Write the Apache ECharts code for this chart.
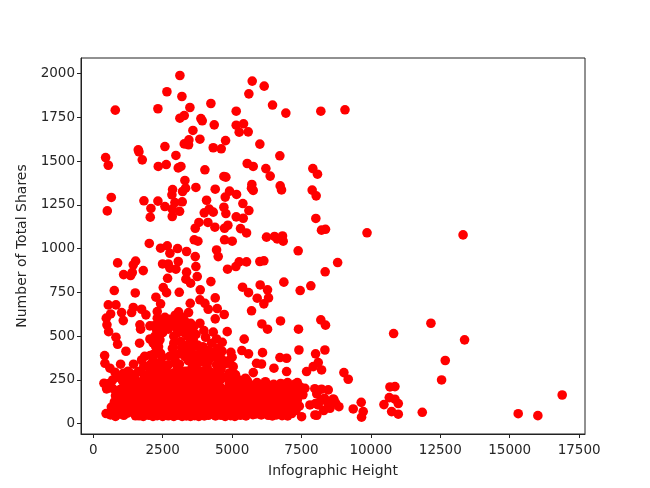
<!DOCTYPE html>
<html><head><meta charset="utf-8">
<script src="https://cdn.jsdelivr.net/npm/echarts@6/dist/echarts.min.js"></script>
<style>html,body{margin:0;padding:0;background:#fff}#c{width:650px;height:488px}</style>
</head><body><div id="c"></div>
<script>
const xTicks=[0,2500,5000,7500,10000,12500,15000,17500];
const yTicks=[0,250,500,750,1000,1250,1500,1750,2000];
const upperPoints=[[3120,1990],[5724,1958],[6156,1929],[2652,1897],[3192,1870],[5604,1885],[6456,1821],[4236,1830],[3480,1807],[792,1792],[2328,1800],[5148,1786],[6936,1775],[8196,1786],[9066,1794],[3120,1746],[3276,1761],[3876,1744],[3924,1731],[4356,1708],[5148,1706],[5412,1714],[5256,1666],[5580,1668],[3588,1676],[3840,1626],[3444,1622],[3276,1599],[3432,1594],[4764,1618],[4320,1577],[4608,1571],[6000,1598],[2580,1584],[1620,1565],[1644,1554],[1764,1508],[2976,1533],[444,1521],[540,1477],[2340,1470],[2628,1481],[3060,1462],[3156,1470],[4020,1451],[6720,1531],[5544,1487],[5760,1470],[6216,1458],[6372,1415],[7908,1458],[8076,1426],[4704,1413],[4776,1409],[3300,1390],[3324,1346],[3216,1327],[2856,1338],[2832,1308],[3696,1350],[4392,1340],[5712,1367],[5700,1346],[5760,1333],[6732,1359],[6780,1336],[7884,1335],[8028,1302],[648,1293],[504,1216],[1824,1274],[2328,1272],[2076,1230],[2052,1180],[2580,1241],[2844,1226],[2844,1184],[2940,1264],[3204,1268],[3108,1214],[4080,1277],[3996,1205],[4176,1226],[4320,1209],[4752,1295],[4908,1329],[5160,1310],[4704,1237],[4776,1201],[5388,1258],[5604,1218],[5148,1182],[5400,1174],[8016,1173],[8220,1106],[8364,1111],[9860,1091],[13320,1079],[3804,1150],[4128,1150],[3672,1117],[4380,1123],[4728,1117],[4848,1134],[5304,1115],[5520,1090],[6240,1066],[6528,1070],[6624,1056],[6816,1073],[6840,1043],[3636,1051],[3768,1043],[4728,1051],[5004,1043],[2016,1030]];
const middlePoints=[[2424,1003],[2664,1016],[2760,974],[3036,1001],[3360,984],[3672,955],[4440,993],[4500,955],[7380,988],[876,919],[1524,929],[1440,908],[1092,852],[1344,847],[1404,864],[1800,875],[2496,913],[2700,913],[3060,927],[2976,883],[2760,889],[3696,898],[3360,866],[3744,841],[3336,826],[3504,803],[2676,831],[4836,883],[5136,898],[5256,925],[5520,925],[6000,927],[6144,931],[8802,921],[8352,868],[6864,809],[7452,761],[7836,788],[4236,812],[5376,780],[5592,749],[6012,793],[6276,765],[5904,717],[6312,719],[6144,685],[5700,645],[756,761],[1512,747],[2520,778],[2640,749],[3096,751],[3852,765],[2256,723],[2424,685],[3492,688],[3840,708],[4020,688],[4140,654],[4392,719],[4464,658],[4716,624],[4392,599],[3072,639],[3432,635],[540,679],[816,679],[624,627],[468,603],[492,565],[552,526],[816,494],[876,454],[1176,414],[1020,635],[1080,589],[1380,635],[1440,664],[1740,654],[1896,622],[1680,565],[1704,540],[2304,641],[2304,603],[2580,608],[2760,597],[2040,559],[2280,536],[2040,484],[1668,460],[2400,479],[3180,565],[3504,574],[3840,574],[3000,545],[3300,517],[3984,532],[4044,494],[4320,523],[4440,484],[4644,465],[4824,526],[6744,587],[6072,570],[6276,540],[7392,540],[8196,593],[8364,563],[5436,483],[5352,418],[5592,399],[6096,406],[7407,421],[8343,421],[8007,399],[4956,408],[4320,408],[3900,412],[6723,378],[6963,374],[6507,317],[6963,298],[5880,345],[6060,341],[5763,292],[7683,298],[8103,349],[7923,326],[8223,307],[408,389],[420,345],[600,317],[984,340],[780,294],[1080,288],[1740,364],[2040,336],[2160,383],[2424,402],[2520,336],[2700,336],[3000,336],[3300,383],[3600,345],[4140,355],[4500,402],[4440,336],[4800,355],[5040,326],[5124,279],[2500,520],[2700,540],[2900,500],[3150,470],[3400,500],[3600,480],[2350,440],[2850,430],[3100,400],[3500,420],[3750,450],[2200,300],[2900,290],[3400,300],[3700,290],[4000,300],[4250,290],[4600,310],[4900,290],[1950,280],[3200,280]];
const midFillPoints=[[2180,560],[2340,575],[2480,555],[2620,575],[2880,570],[3050,580],[3280,590],[3430,560],[3620,555],[2220,500],[2900,460],[3050,520],[3220,545],[3480,530],[3700,510],[2160,460],[2300,410],[2480,380],[2750,385],[2900,395],[3180,435],[3320,445],[3480,465],[3620,440],[3850,430],[3950,390],[2050,390],[2130,350],[2280,345],[2390,300],[2620,310],[2950,360],[3100,340],[3420,360],[3530,380],[3700,390],[3820,350],[4000,350],[4200,390],[4380,380],[4620,370],[4720,340],[4900,345],[5000,380],[3300,300],[3520,290],[3850,300],[4120,300],[4380,290],[4520,270],[4780,265],[5000,260],[2350,275],[2620,270],[2800,275],[3070,270],[3350,265],[3620,265],[3880,270],[4180,265],[1820,330],[1700,300],[1850,270],[1500,275],[1350,285],[1200,250],[1050,245],[900,265],[700,250],[560,230],[4260,460],[4480,430],[4640,415],[2950,620],[3200,610],[4560,297],[4920,365],[4200,297]];
const densePoints=[[460,58],[620,50],[800,42],[950,55],[1100,48],[650,95],[820,85],[1000,80],[1180,90],[384,231],[480,199],[696,202],[1140,221],[1464,250],[1620,298],[800,160],[950,150],[1100,130],[1250,170],[1400,130],[1550,180],[1700,240],[1850,210],[2200,240],[2400,250],[2650,240],[2950,245],[3200,250],[3450,235],[3700,255],[3950,245],[4200,240],[4450,250],[4600,255],[1650,45],[1800,42],[2000,48],[2150,42],[2300,46],[2500,42],[2700,45],[2900,42],[3050,48],[3200,42],[3350,44],[3500,42],[3650,46],[3800,42],[4000,44],[4150,48],[4400,44],[4600,48],[4750,42],[4950,46],[5100,42],[5300,48],[5500,44],[5750,52],[6300,48],[6450,44],[6600,50],[6800,46],[7000,44],[7503,40],[7983,50],[8050,48],[1500,75],[1700,80],[1900,75],[2100,80],[2300,70],[2500,80],[2700,72],[2900,80],[3100,70],[3300,80],[3500,72],[3700,80],[3900,70],[4100,80],[4300,72],[4500,80],[4700,72],[4900,80],[5100,72],[5300,80],[5500,72],[5700,78],[5900,70],[6100,75],[6400,75],[6700,78],[7050,80],[7300,75],[1300,120],[1550,115],[1800,110],[2050,120],[2300,110],[2550,120],[2800,110],[3050,120],[3300,110],[3550,120],[3800,110],[4050,120],[4300,110],[4550,120],[4800,110],[5050,120],[5300,110],[5550,118],[5800,110],[6050,120],[6300,110],[6550,118],[6800,112],[7050,118],[7300,120],[1450,165],[1700,160],[1950,170],[2200,160],[2450,170],[2700,160],[2950,170],[3200,160],[3450,170],[3700,160],[3950,170],[4200,160],[4450,170],[4700,150],[4950,170],[5200,160],[5450,165],[5700,160],[5950,170],[6200,160],[6450,165],[6700,160],[6950,170],[7150,150],[7450,165],[1600,210],[2100,205],[2350,200],[2600,205],[2850,200],[3100,205],[3350,200],[3600,205],[3850,200],[4100,205],[4350,200],[4600,205],[5000,200],[5250,200],[5500,190],[5800,205],[6050,195],[6300,200],[6550,205],[6800,210],[7000,205],[7450,210],[7623,202],[7803,107],[8103,107],[8200,135],[8050,170],[8223,197],[8463,193],[8300,75],[8526,88],[8643,141],[8847,97],[8670,136],[8730,117],[5550,245],[5900,235],[6200,240],[6500,225],[6750,230],[7000,235],[7250,225],[3000,300],[2450,310],[3700,340],[2200,400]];
const denseFillPoints=[[720,70],[880,62],[1040,68],[900,110],[1080,105],[1230,60],[760,125],[1180,135],[960,195],[1250,215],[1350,195],[1500,145],[1620,130],[1620,60],[1780,60],[1920,55],[2080,60],[2220,58],[2400,60],[2600,60],[2780,58],[2970,62],[3130,58],[3280,60],[3430,58],[3580,60],[3730,58],[3900,56],[4060,60],[4230,58],[4490,60],[4670,56],[4850,60],[5020,58],[5200,60],[5400,58],[5620,60],[5850,55],[6050,50],[6200,62],[6520,60],[6720,62],[6900,60],[7150,58],[1400,95],[1600,98],[1780,92],[2000,98],[2180,92],[2400,98],[2620,92],[2820,98],[3000,92],[3200,98],[3400,92],[3620,98],[3820,92],[4000,98],[4200,92],[4400,98],[4620,92],[4820,98],[5000,92],[5200,98],[5400,92],[5620,96],[5820,92],[6020,96],[6220,92],[6480,96],[6680,95],[6900,95],[7180,95],[7420,100],[1420,205],[1750,140],[1900,140],[2180,140],[2420,140],[2680,140],[2920,140],[3180,140],[3420,140],[3680,140],[3920,140],[4180,140],[4420,140],[4680,125],[4920,140],[5180,140],[5420,140],[5680,140],[5920,140],[6180,140],[6420,140],[6680,140],[6920,140],[7200,115],[7380,200],[1750,190],[2000,190],[2250,185],[2520,185],[2750,185],[3000,185],[3250,185],[3500,185],[3750,185],[4000,185],[4250,185],[4500,180],[4850,200],[5100,185],[5350,185],[5650,185],[5950,190],[6200,185],[6500,180],[6850,185],[7250,180],[7550,165],[1950,225],[2080,260],[2300,225],[2530,225],[2780,225],[3050,225],[3300,225],[3530,225],[3780,225],[4050,225],[4280,225],[4520,225],[4900,230],[5150,225],[5400,225],[5700,220],[6000,215],[6350,220],[6620,215],[6900,225],[7150,215],[7350,235],[2450,270],[3150,300],[3580,315],[4100,325],[8000,115],[7980,200],[8330,145],[8450,115]];
const gapFillPoints=[[1150,175],[1320,160],[1480,230],[1250,300],[1450,340],[1850,385],[1320,95],[1520,45],[5620,225],[5250,250],[5480,260],[5100,280],[5850,130],[6100,150],[6350,160],[6600,100],[6850,85],[7100,170],[7350,135],[5230,115],[4980,120],[4730,100],[4480,115],[4230,125],[3980,110],[3730,130],[3480,115],[3230,125],[2980,110],[2730,130],[2480,115],[2230,125],[1980,110],[2120,175],[2370,160],[2620,175],[2870,155],[3120,175],[3370,155],[3620,175],[3870,155],[4120,175],[4370,155],[4620,175],[4880,150],[5130,175],[5380,150],[5630,175],[5880,150],[6130,175],[6380,185],[6630,180],[6880,195],[2250,440],[2000,320],[3250,400],[3560,320],[3950,440],[4150,420]];
const outlierPoints=[[9027,292],[9183,254],[10686,210],[10866,212],[10662,149],[10866,140],[10986,115],[10470,109],[10746,69],[10986,54],[11850,65],[9651,122],[9363,84],[9723,69],[9663,37],[15306,57],[16014,46],[16890,164],[12162,574],[10818,515],[13374,479],[12678,361],[12546,250]];
const allPoints=[...upperPoints,...middlePoints,...midFillPoints,...densePoints,...denseFillPoints,...gapFillPoints,...outlierPoints];
const font='"DejaVu Sans"';
const chart=echarts.init(document.getElementById('c'),null,{renderer:'canvas'});
const plain=v=>String(v);
const axisCommon={
  nameLocation:'middle',
  nameMoveOverlap:false,
  nameTextStyle:{fontFamily:font,fontSize:14,color:'#262626'},
  splitLine:{show:false},
  axisLine:{onZero:false,show:true,lineStyle:{color:'#222',width:1}},
  axisTick:{show:true,length:4,lineStyle:{color:'#222',width:1}},
  axisLabel:{fontFamily:font,fontSize:13.5,color:'#262626',margin:6,showMinLabel:true,showMaxLabel:true,formatter:plain},
};
chart.setOption({
  animation:false,
  backgroundColor:'#fff',
  grid:{left:81,right:65,top:58,bottom:54,outerBoundsMode:'none',show:true,borderColor:'#222',borderWidth:1,backgroundColor:'transparent'},
  xAxis:{...axisCommon,type:'value',name:'Infographic Height',nameGap:30,min:-443,max:17712,
    customValues:xTicks,
    axisTick:{...axisCommon.axisTick,customValues:xTicks},
    axisLabel:{...axisCommon.axisLabel,margin:9,customValues:xTicks}},
  yAxis:{...axisCommon,type:'value',name:'Number of Total Shares',nameGap:52,min:-59,max:2090,
    customValues:yTicks,
    axisTick:{...axisCommon.axisTick,customValues:yTicks},
    axisLabel:{...axisCommon.axisLabel,padding:[3,0,0,0],customValues:yTicks}},
  series:[{type:'scatter',data:allPoints,symbol:'circle',symbolSize:9.6,itemStyle:{color:'#ff0000',opacity:1},clip:false}]
});
</script></body></html>
